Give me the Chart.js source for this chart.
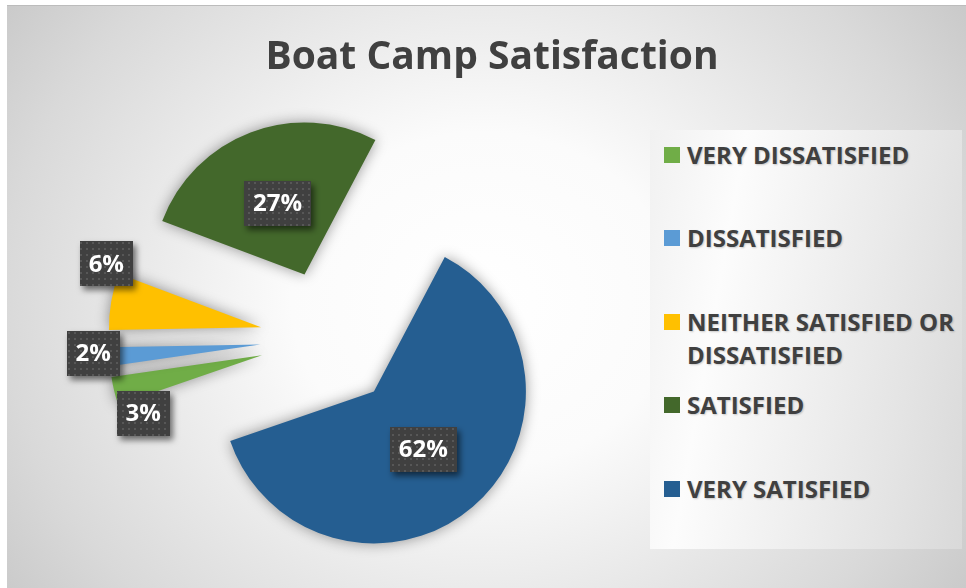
<!DOCTYPE html>
<html>
<head>
<meta charset="utf-8">
<script src="https://cdn.jsdelivr.net/npm/chart.js@4.4.1/dist/chart.umd.min.js"></script>
<style>
  body { margin: 0; background: #fff; font-family: 'Open Sans', sans-serif; }
  #wrap { position: relative; width: 966px; height: 588px; overflow: hidden; }
  #chart { position: absolute; left: 0; top: 0; }
  #title { position: absolute; left: 0; top: 31px; width: 984px; text-align: center;
           font: bold 39px/46px 'Open Sans'; color: #404040; }
  #legend { position: absolute; left: 650px; top: 130px; width: 312px; height: 419px;
            background: linear-gradient(100deg, #f1f1f1 0%, #fcfcfc 25%, #e4e4e4 78%, #d9d9d9 100%); }
  .item { position: absolute; left: 14px; width: 298px; font: bold 24px/33px 'Open Sans'; color: #404040;
          text-shadow: 1px 1px 2px rgba(0,0,0,0.2); }
  .item .box { position: absolute; left: 0; top: 9px; width: 16px; height: 16px; }
  .item .txt { margin-left: 23px; }
</style>
</head>
<body>
<div id="wrap">
  <canvas id="chart" width="966" height="588"></canvas>
  <div id="title">Boat Camp Satisfaction</div>
  <div id="legend"></div>
</div>
<script>
// data
var labels = ['VERY DISSATISFIED', 'DISSATISFIED', 'NEITHER SATISFIED OR DISSATISFIED', 'SATISFIED', 'VERY SATISFIED'];
var shares = [3, 2, 6, 27, 62];
var colors = ['#70ad47', '#5b9bd5', '#ffc000', '#43682b', '#255e91'];

// label placement (fraction of radius from slice tip, turn in degrees)
var labelDist = [0.87, 1.10, 1.10, 0.5, 0.5];
var labelTurn = [-12.5, 1.5, 12.5, 0, 0];
var EXPLODE = 69;

// html legend
var legend = document.getElementById('legend');
for (var i = 0; i < labels.length; i++) {
    var el = document.createElement('div');
    el.className = 'item';
    el.style.top = (7.5 + i * 83.5) + 'px';
    el.innerHTML = '<span class="box" style="background:' + colors[i] + '"></span><div class="txt">' + labels[i] + '</div>';
    legend.appendChild(el);
}

var bgPlugin = {
    id: 'bg',
    beforeDraw: function(chart) {
        var ctx = chart.ctx;
        ctx.save();
        ctx.fillStyle = '#ffffff';
        ctx.fillRect(0, 0, chart.width, chart.height);
        ctx.translate(483, 300);
        ctx.scale(1, 560 / 640);
        var g = ctx.createRadialGradient(0, 0, 0, 0, 0, 640);
        g.addColorStop(0, '#ffffff');
        g.addColorStop(0.3, '#fbfbfb');
        g.addColorStop(0.75, '#d9d9d9');
        g.addColorStop(1, '#c2c2c2');
        ctx.fillStyle = g;
        ctx.fillRect(-483 + 7, -300 / (560 / 640) + 6 / (560 / 640), 966, 700);
        ctx.restore();
        ctx.fillStyle = '#bcbcbc';
        ctx.fillRect(7, 5, chart.width - 7, 1);
    }
};

var explodePlugin = {
    id: 'explode',
    afterDatasetUpdate: function(chart, args) {
        args.meta.data.forEach(function(arc) {
            var mid = (arc.startAngle + arc.endAngle) / 2;
            arc.x += EXPLODE * Math.cos(mid);
            arc.y += EXPLODE * Math.sin(mid);
        });
    }
};

var glowPlugin = {
    id: 'glow',
    beforeDatasetsDraw: function(chart) {
        var ctx = chart.ctx;
        ctx.save();
        ctx.shadowColor = 'rgba(0,0,0,0.4)';
        ctx.shadowBlur = 14;
    },
    afterDatasetsDraw: function(chart) {
        chart.ctx.restore();
    }
};

var dots = document.createElement('canvas');
dots.width = 6; dots.height = 6;
var dctx = dots.getContext('2d');
dctx.fillStyle = '#404040';
dctx.fillRect(0, 0, 6, 6);
dctx.fillStyle = '#575757';
dctx.fillRect(2, 2, 2, 2);

var labelPlugin = {
    id: 'boxlabels',
    afterDraw: function(chart) {
        var ctx = chart.ctx;
        var meta = chart.getDatasetMeta(0);
        var pattern = ctx.createPattern(dots, 'repeat');
        meta.data.forEach(function(arc, i) {
            var mid = (arc.startAngle + arc.endAngle) / 2 + labelTurn[i] * Math.PI / 180;
            var r = arc.outerRadius * labelDist[i];
            var x = arc.x + r * Math.cos(mid);
            var y = arc.y + r * Math.sin(mid);
            var text = shares[i] + '%';
            ctx.save();
            ctx.font = 'bold 24px "Open Sans"';
            var w = ctx.measureText(text).width + 18;
            var h = 45;
            ctx.shadowColor = 'rgba(0,0,0,0.55)';
            ctx.shadowBlur = 6;
            ctx.shadowOffsetX = 3;
            ctx.shadowOffsetY = 4;
            ctx.fillStyle = pattern;
            ctx.fillRect(Math.round(x - w / 2), Math.round(y - h / 2), Math.round(w), h);
            ctx.shadowColor = 'transparent';
            ctx.fillStyle = '#ffffff';
            ctx.textAlign = 'center';
            ctx.textBaseline = 'middle';
            ctx.fillText(text, x, y + 1);
            ctx.restore();
        });
    }
};

var myChart = new Chart(document.getElementById('chart'), {
    type: 'pie',
    data: {
        labels: labels,
        datasets: [{
            data: shares,
            backgroundColor: colors,
            borderWidth: 0
        }]
    },
    options: {
        responsive: false,
        animation: false,
        events: [],
        devicePixelRatio: 1,
        rotation: 251,
        radius: 152,
        layout: { padding: { top: 90, left: 0, right: 308, bottom: 0 } },
        plugins: {
            legend: { display: false },
            tooltip: { enabled: false }
        }
    },
    plugins: [bgPlugin, explodePlugin, glowPlugin, labelPlugin]
});
</script>
</body>
</html>
